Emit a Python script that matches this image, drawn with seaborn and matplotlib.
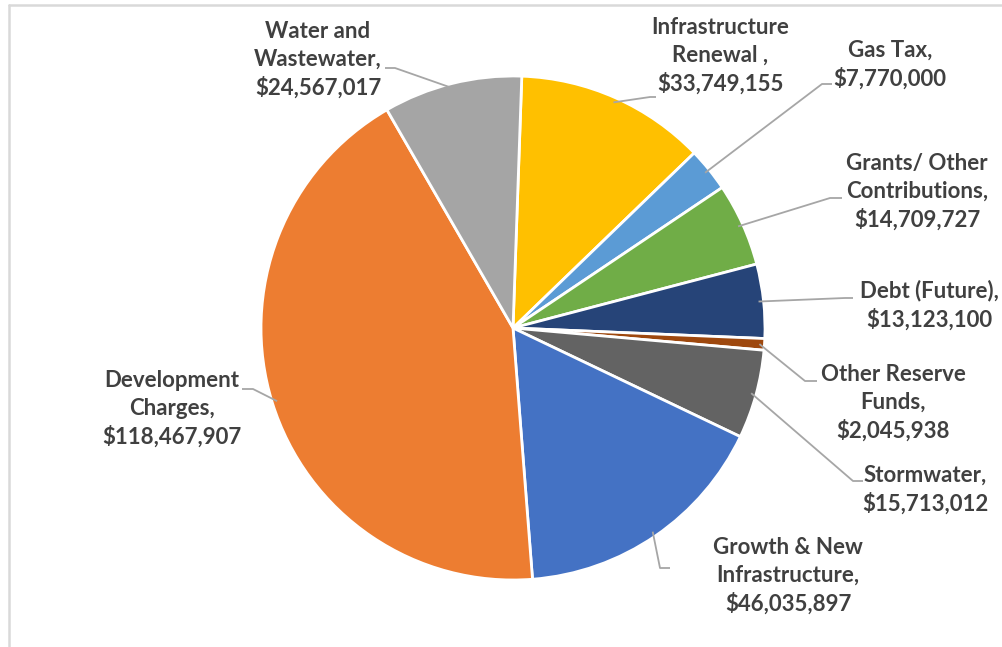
import numpy as np
import matplotlib
matplotlib.use("Agg")
import matplotlib.pyplot as plt
import seaborn as sns

# ---- data ----
categories = [
    "Infrastructure\nRenewal ",
    "Gas Tax",
    "Grants/ Other\nContributions",
    "Debt (Future)",
    "Other Reserve\nFunds",
    "Stormwater",
    "Growth & New\nInfrastructure",
    "Development\nCharges",
    "Water and\nWastewater",
]
values = [33749155, 7770000, 14709727, 13123100, 2045938,
          15713012, 46035897, 118467907, 24567017]
colors = ["#FFC000", "#5B9BD5", "#70AD47", "#264478", "#9E480E",
          "#636363", "#4472C4", "#ED7D31", "#A5A5A5"]

# ---- layout (pixel coordinates, y measured from top) ----
W, H = 1002, 647
center_px = (513, 328)
radius_px = 252
label_xy = [(720, 56), (890, 65), (917, 192), (929, 305), (893, 403),
            (925, 490), (788, 576), (172, 409), (318, 60)]
elbow_xy = [(650, 97), (822, 84), (830, 198), (845, 298), (805, 381),
            (853, 481), (660, 568), (253, 389), (395, 68)]
end_xy = [(656, 97), (832, 84), (842, 198), (853, 298), (817, 381),
          (863, 481), (670, 568), (242, 389), (385, 68)]

sns.set_theme(style="white")
plt.rcParams["font.family"] = ["Lato", "DejaVu Sans"]

fig = plt.figure(figsize=(W / 100, H / 100), dpi=100)
ax = fig.add_axes([0, 0, 1, 1])


def fy(y):
    return H - y


wedges, _ = ax.pie(values, colors=colors, startangle=88, counterclock=False,
                   radius=radius_px, center=(center_px[0], fy(center_px[1])),
                   wedgeprops=dict(edgecolor="white", linewidth=2))
ax.set_xlim(0, W)
ax.set_ylim(0, H)
ax.set_aspect("auto")
ax.axis("off")

line_col = "#A6A6A6"
text_col = "#404040"
for w, cat, val, lxy, exy, nxy in zip(wedges, categories, values,
                                       label_xy, elbow_xy, end_xy):
    mid = np.deg2rad((w.theta1 + w.theta2) / 2)
    ax0 = center_px[0] + 0.98 * radius_px * np.cos(mid)
    ay0 = fy(center_px[1]) + 0.98 * radius_px * np.sin(mid)
    ax.plot([ax0, exy[0], nxy[0]], [ay0, fy(exy[1]), fy(nxy[1])],
            color=line_col, lw=1.3, solid_capstyle="butt", zorder=1)
    ax.text(lxy[0], fy(lxy[1]), f"{cat},\n${val:,}", ha="center", va="center",
            multialignment="center", fontsize=16, fontweight="bold",
            color=text_col, linespacing=1.38)

# chart frame (partially cropped in the reference)
frame_col = "#D9D9D9"
ax.plot([9, W + 5], [fy(5), fy(5)], color=frame_col, lw=1.8, clip_on=False)
ax.plot([9, 9], [fy(5), -5], color=frame_col, lw=1.8, clip_on=False)

fig.savefig("out.png", dpi=100, facecolor="white")
